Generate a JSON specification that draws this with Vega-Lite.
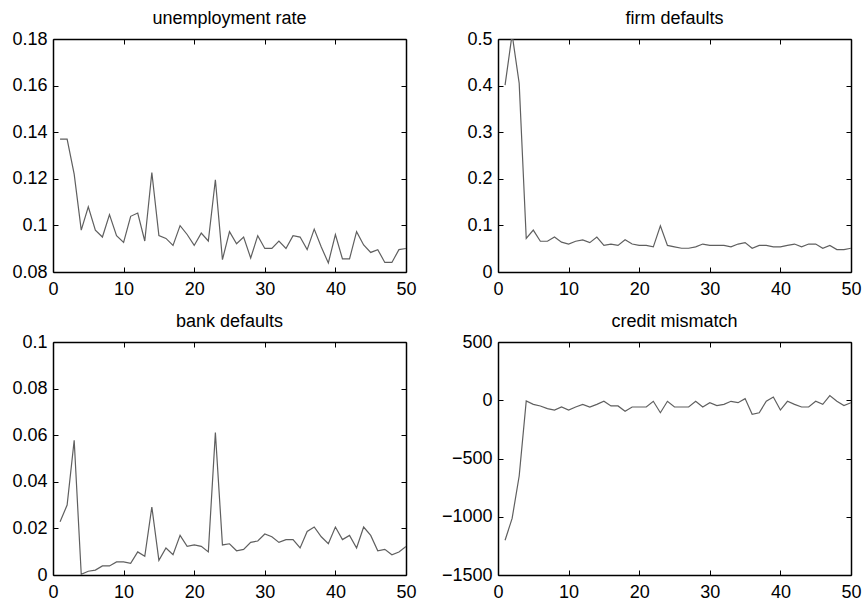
{
  "$schema": "https://vega.github.io/schema/vega-lite/v6.json",
  "background": "white",
  "padding": {"left": 11, "top": 10, "right": 0, "bottom": 0},
  "datasets": {
    "sim": [
      {"t":1,"u":0.137,"f":0.401,"b":0.0229,"c":-1202},
      {"t":2,"u":0.137,"f":0.51,"b":0.030,"c":-1014},
      {"t":3,"u":0.122,"f":0.405,"b":0.0578,"c":-650},
      {"t":4,"u":0.098,"f":0.072,"b":0.0003,"c":-6},
      {"t":5,"u":0.108,"f":0.090,"b":0.0016,"c":-35},
      {"t":6,"u":0.098,"f":0.066,"b":0.0021,"c":-49},
      {"t":7,"u":0.095,"f":0.066,"b":0.0039,"c":-72},
      {"t":8,"u":0.1046,"f":0.075,"b":0.0039,"c":-84},
      {"t":9,"u":0.0956,"f":0.064,"b":0.0056,"c":-58},
      {"t":10,"u":0.0927,"f":0.060,"b":0.0056,"c":-84},
      {"t":11,"u":0.1039,"f":0.066,"b":0.005,"c":-58},
      {"t":12,"u":0.1053,"f":0.069,"b":0.0099,"c":-35},
      {"t":13,"u":0.0933,"f":0.063,"b":0.008,"c":-58},
      {"t":14,"u":0.1227,"f":0.075,"b":0.0292,"c":-35},
      {"t":15,"u":0.0956,"f":0.057,"b":0.0063,"c":-9},
      {"t":16,"u":0.0944,"f":0.060,"b":0.0116,"c":-49},
      {"t":17,"u":0.0914,"f":0.057,"b":0.0087,"c":-49},
      {"t":18,"u":0.0999,"f":0.069,"b":0.017,"c":-95},
      {"t":19,"u":0.0961,"f":0.060,"b":0.0123,"c":-58},
      {"t":20,"u":0.0914,"f":0.057,"b":0.0129,"c":-58},
      {"t":21,"u":0.0967,"f":0.057,"b":0.0123,"c":-58},
      {"t":22,"u":0.0933,"f":0.054,"b":0.0099,"c":-9},
      {"t":23,"u":0.1196,"f":0.099,"b":0.0611,"c":-107},
      {"t":24,"u":0.0853,"f":0.057,"b":0.0129,"c":-9},
      {"t":25,"u":0.0973,"f":0.054,"b":0.0134,"c":-58},
      {"t":26,"u":0.0921,"f":0.051,"b":0.0104,"c":-58},
      {"t":27,"u":0.095,"f":0.051,"b":0.011,"c":-58},
      {"t":28,"u":0.086,"f":0.054,"b":0.014,"c":-9},
      {"t":29,"u":0.0956,"f":0.060,"b":0.0146,"c":-58},
      {"t":30,"u":0.0901,"f":0.057,"b":0.0176,"c":-21},
      {"t":31,"u":0.0901,"f":0.057,"b":0.0164,"c":-46},
      {"t":32,"u":0.0933,"f":0.057,"b":0.014,"c":-35},
      {"t":33,"u":0.0901,"f":0.054,"b":0.0152,"c":-9},
      {"t":34,"u":0.0956,"f":0.060,"b":0.0152,"c":-21},
      {"t":35,"u":0.095,"f":0.063,"b":0.0116,"c":14},
      {"t":36,"u":0.0896,"f":0.051,"b":0.0187,"c":-121},
      {"t":37,"u":0.0984,"f":0.057,"b":0.0206,"c":-107},
      {"t":38,"u":0.0907,"f":0.057,"b":0.0164,"c":-9},
      {"t":39,"u":0.0839,"f":0.054,"b":0.0134,"c":28},
      {"t":40,"u":0.0961,"f":0.054,"b":0.0206,"c":-84},
      {"t":41,"u":0.0856,"f":0.057,"b":0.0152,"c":-9},
      {"t":42,"u":0.0856,"f":0.060,"b":0.017,"c":-35},
      {"t":43,"u":0.0973,"f":0.054,"b":0.0116,"c":-58},
      {"t":44,"u":0.0916,"f":0.060,"b":0.0206,"c":-58},
      {"t":45,"u":0.0884,"f":0.060,"b":0.017,"c":-9},
      {"t":46,"u":0.0896,"f":0.051,"b":0.0104,"c":-35},
      {"t":47,"u":0.0841,"f":0.057,"b":0.011,"c":40},
      {"t":48,"u":0.0841,"f":0.048,"b":0.0087,"c":-9},
      {"t":49,"u":0.0896,"f":0.048,"b":0.0099,"c":-46},
      {"t":50,"u":0.0901,"f":0.051,"b":0.0122,"c":-21}
    ]
  },
  "data": {"name": "sim"},
  "columns": 2,
  "spacing": {"column": 24, "row": 15},
  "concat": [
    {
      "title": {"text": "unemployment rate", "offset": 2},
      "width": 353, "height": 233,
      "layer": [
        {"mark": {"type": "line", "clip": true},
         "encoding": {
           "x": {"field": "t", "type": "quantitative", "scale": {"domain": [0, 50], "nice": false, "zero": false}, "axis": {"title": null, "values": [0,10,20,30,40,50], "orient": "bottom"}},
           "y": {"field": "u", "type": "quantitative", "scale": {"domain": [0.08, 0.18], "nice": false, "zero": false}, "axis": {"title": null, "values": [0.08,0.1,0.12,0.14,0.16,0.18], "format": ".2~f", "orient": "left"}}
         }},
        {"mark": {"type": "line", "opacity": 0},
         "encoding": {
           "x": {"field": "t", "type": "quantitative", "axis": {"title": null, "values": [0,10,20,30,40,50], "orient": "top", "labels": false}},
           "y": {"field": "u", "type": "quantitative", "axis": {"title": null, "values": [0.08,0.1,0.12,0.14,0.16,0.18], "orient": "right", "labels": false}}
         }}
      ],
      "resolve": {"axis": {"x": "independent", "y": "independent"}}
    },
    {
      "title": {"text": "firm defaults", "offset": 2},
      "width": 353, "height": 233,
      "layer": [
        {"mark": {"type": "line", "clip": true},
         "encoding": {
           "x": {"field": "t", "type": "quantitative", "scale": {"domain": [0, 50], "nice": false, "zero": false}, "axis": {"title": null, "values": [0,10,20,30,40,50], "orient": "bottom"}},
           "y": {"field": "f", "type": "quantitative", "scale": {"domain": [0, 0.5], "nice": false, "zero": false}, "axis": {"title": null, "values": [0,0.1,0.2,0.3,0.4,0.5], "format": ".1~f", "orient": "left"}}
         }},
        {"mark": {"type": "line", "opacity": 0, "clip": true},
         "encoding": {
           "x": {"field": "t", "type": "quantitative", "axis": {"title": null, "values": [0,10,20,30,40,50], "orient": "top", "labels": false}},
           "y": {"field": "f", "type": "quantitative", "axis": {"title": null, "values": [0,0.1,0.2,0.3,0.4,0.5], "orient": "right", "labels": false}}
         }}
      ],
      "resolve": {"axis": {"x": "independent", "y": "independent"}}
    },
    {
      "title": {"text": "bank defaults", "offset": 2},
      "width": 353, "height": 233,
      "layer": [
        {"mark": {"type": "line", "clip": true},
         "encoding": {
           "x": {"field": "t", "type": "quantitative", "scale": {"domain": [0, 50], "nice": false, "zero": false}, "axis": {"title": null, "values": [0,10,20,30,40,50], "orient": "bottom"}},
           "y": {"field": "b", "type": "quantitative", "scale": {"domain": [0, 0.1], "nice": false, "zero": false}, "axis": {"title": null, "values": [0,0.02,0.04,0.06,0.08,0.1], "format": ".2~f", "orient": "left"}}
         }},
        {"mark": {"type": "line", "opacity": 0},
         "encoding": {
           "x": {"field": "t", "type": "quantitative", "axis": {"title": null, "values": [0,10,20,30,40,50], "orient": "top", "labels": false}},
           "y": {"field": "b", "type": "quantitative", "axis": {"title": null, "values": [0,0.02,0.04,0.06,0.08,0.1], "orient": "right", "labels": false}}
         }}
      ],
      "resolve": {"axis": {"x": "independent", "y": "independent"}}
    },
    {
      "title": {"text": "credit mismatch", "offset": 2},
      "width": 353, "height": 233,
      "layer": [
        {"mark": {"type": "line", "clip": true},
         "encoding": {
           "x": {"field": "t", "type": "quantitative", "scale": {"domain": [0, 50], "nice": false, "zero": false}, "axis": {"title": null, "values": [0,10,20,30,40,50], "orient": "bottom"}},
           "y": {"field": "c", "type": "quantitative", "scale": {"domain": [-1500, 500], "nice": false, "zero": false}, "axis": {"title": null, "values": [-1500,-1000,-500,0,500], "format": "d", "orient": "left"}}
         }},
        {"mark": {"type": "line", "opacity": 0},
         "encoding": {
           "x": {"field": "t", "type": "quantitative", "axis": {"title": null, "values": [0,10,20,30,40,50], "orient": "top", "labels": false}},
           "y": {"field": "c", "type": "quantitative", "axis": {"title": null, "values": [-1500,-1000,-500,0,500], "orient": "right", "labels": false}}
         }}
      ],
      "resolve": {"axis": {"x": "independent", "y": "independent"}}
    }
  ],
  "config": {
    "font": "Liberation Sans",
    "view": {"stroke": null},
    "axis": {
      "grid": false,
      "domainColor": "#000000",
      "domainWidth": 1.5,
      "tickColor": "#000000",
      "tickWidth": 1,
      "tickSize": -5,
      "labelFontSize": 18,
      "labelFont": "Liberation Sans",
      "labelColor": "#000000",
      "labelFlush": false,
      "labelOverlap": false,
      "labelPadding": 11
    },
    "axisX": {"labelPadding": 13},
    "title": {"fontSize": 18, "fontWeight": "normal", "color": "#000000", "font": "Liberation Sans", "baseline": "alphabetic"},
    "style": {"group-title": {"fontSize": 18, "fontWeight": "normal", "color": "#000000", "font": "Liberation Sans", "baseline": "alphabetic"}},
    "line": {"color": "#5f5f5f", "strokeWidth": 1.2}
  }
}
